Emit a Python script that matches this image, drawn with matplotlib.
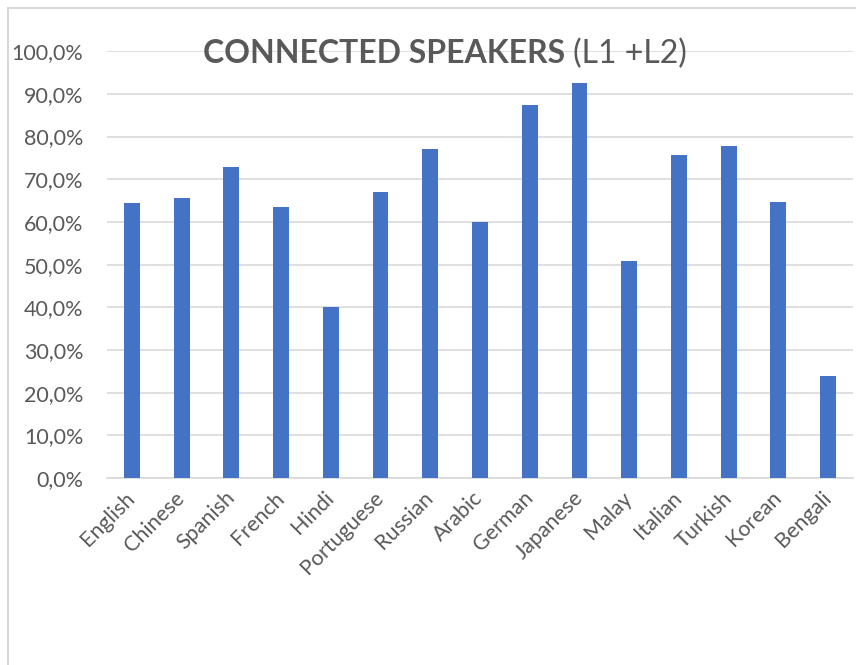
import matplotlib.pyplot as plt
from matplotlib.patches import Rectangle
from matplotlib.ticker import FuncFormatter

languages = ["English", "Chinese", "Spanish", "French", "Hindi", "Portuguese",
             "Russian", "Arabic", "German", "Japanese", "Malay", "Italian",
             "Turkish", "Korean", "Bengali"]
connected = [64.4, 65.5, 72.9, 63.5, 40.1, 67.0, 77.0, 60.0, 87.5, 92.5,
             50.9, 75.6, 77.9, 64.6, 24.0]
yticks = [0, 10, 20, 30, 40, 50, 60, 70, 80, 90, 100]

plt.rcParams['font.family'] = ['Lato', 'DejaVu Sans']
txt = '#595959'
grid = '#d9d9d9'

fig = plt.figure(figsize=(8.56, 6.65), dpi=100)
ax = fig.add_axes([0.125, 0.281, 0.8715, 0.642])

x = range(len(languages))
ax.bar(x, connected, width=0.32, color='#4472C4', zorder=3)

ax.set_xlim(-0.5, len(languages) - 0.5)
ax.set_ylim(0, 100)
ax.set_yticks(yticks)
ax.yaxis.set_major_formatter(FuncFormatter(lambda v, p: f"{v:.1f}%".replace('.', ',')))
ax.grid(axis='y', color=grid, linewidth=1.2, zorder=0)
for s in ['top', 'right', 'left']:
    ax.spines[s].set_visible(False)
ax.spines['bottom'].set_color(grid)
ax.spines['bottom'].set_linewidth(1.2)
ax.tick_params(axis='y', length=0, pad=17, labelsize=15.5, labelcolor=txt)
ax.tick_params(axis='x', length=0, pad=12)
ax.set_xticks(list(x))
ax.set_xticklabels(languages, rotation=45, ha='right', va='center',
                   rotation_mode='anchor', fontsize=15.5, color=txt)

# title: bold part + normal part
ty = 1 - 63 / 665
t1 = fig.text(0.237, ty, "CONNECTED SPEAKERS", fontsize=23, fontweight='bold',
              color=txt, ha='left', va='baseline')
fig.canvas.draw()
bb = t1.get_window_extent()
fig.text((bb.x1 + 8) / fig.bbox.width, ty, "(L1 +L2)", fontsize=23,
         color=txt, ha='left', va='baseline')

# chart area border (cut off at right and bottom)
fig.patches.append(Rectangle((8 / 856, -0.1), 1.2, 1 - 8 / 665 + 0.1,
                             transform=fig.transFigure, fill=False,
                             edgecolor=grid, linewidth=1.5))

fig.savefig("out.png", dpi=100)
